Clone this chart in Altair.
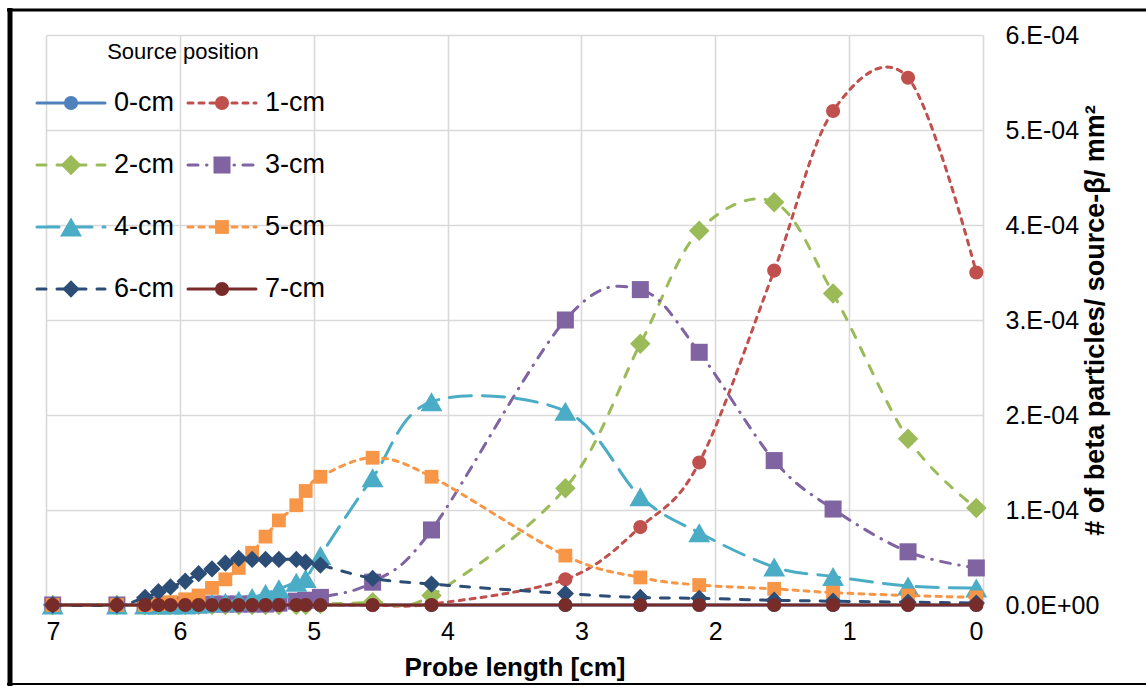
import altair as alt
import pandas as pd

# Probe positions (cm) at which the beta fluence was scored
X_CM = [0.05, 0.56, 1.12, 1.56, 2.12, 2.56, 3.12, 4.12, 4.56, 4.95, 5.06, 5.13,
        5.26, 5.36, 5.46, 5.56, 5.66, 5.76, 5.86, 5.96, 6.07, 6.16, 6.26, 6.47, 6.95]

# Fluence for each source position, in units of 1E-04 particles / source-beta / mm^2
CM0 = [0.00, 0.00, 0.00, 0.00, 0.00, 0.00, 0.00, 0.00, 0.00, 0.00, 0.00, 0.00,
       0.00, 0.00, 0.00, 0.00, 0.00, 0.00, 0.00, 0.00, 0.00, 0.00, 0.00, 0.00, 0.00]
CM1 = [3.50, 5.55, 5.20, 3.52, 1.50, 0.82, 0.27, 0.01, 0.00, 0.00, 0.00, 0.00,
       0.00, 0.00, 0.00, 0.00, 0.00, 0.00, 0.00, 0.00, 0.00, 0.00, 0.00, 0.00, 0.00]
CM2 = [1.02, 1.75, 3.28, 4.24, 3.94, 2.75, 1.23, 0.10, 0.03, 0.01, 0.00, 0.00,
       0.00, 0.00, 0.00, 0.00, 0.00, 0.00, 0.00, 0.00, 0.00, 0.00, 0.00, 0.00, 0.00]
CM3 = [0.39, 0.56, 1.01, 1.52, 2.66, 3.32, 3.00, 0.79, 0.24, 0.08, 0.05, 0.04,
       0.02, 0.01, 0.01, 0.01, 0.01, 0.01, 0.00, 0.00, 0.00, 0.00, 0.00, 0.00, 0.00]
CM4 = [0.18, 0.20, 0.30, 0.40, 0.76, 1.14, 2.04, 2.14, 1.34, 0.52, 0.28, 0.24,
       0.17, 0.12, 0.08, 0.05, 0.03, 0.02, 0.01, 0.00, 0.00, 0.00, 0.00, 0.00, 0.00]
CM5 = [0.08, 0.10, 0.13, 0.17, 0.21, 0.29, 0.52, 1.35, 1.55, 1.35, 1.20, 1.05,
       0.89, 0.72, 0.55, 0.39, 0.27, 0.18, 0.10, 0.06, 0.03, 0.01, 0.00, 0.00, 0.00]
CM6 = [0.02, 0.03, 0.04, 0.05, 0.07, 0.08, 0.12, 0.22, 0.28, 0.42, 0.45, 0.48,
       0.48, 0.48, 0.48, 0.49, 0.44, 0.38, 0.33, 0.25, 0.19, 0.14, 0.08, 0.00, 0.00]
CM7 = [0.00, 0.00, 0.00, 0.00, 0.00, 0.00, 0.00, 0.00, 0.00, 0.00, 0.00, 0.00,
       0.00, 0.00, 0.00, 0.00, 0.00, 0.00, 0.00, 0.00, 0.00, 0.00, 0.00, 0.00, 0.00]
UNIT = 1e-4

SERIES = ["0-cm", "1-cm", "2-cm", "3-cm", "4-cm", "5-cm", "6-cm", "7-cm"]
VALUES = [CM0, CM1, CM2, CM3, CM4, CM5, CM6, CM7]

Y_TICKS = [0.0, 0.0001, 0.0002, 0.0003, 0.0004, 0.0005, 0.0006]
X_TICKS = [0, 1, 2, 3, 4, 5, 6, 7]

# Series styling (Office 2010 palette, marker shapes, dash patterns)
COLORS = ["#4F81BD", "#C0504D", "#9BBB59", "#8064A2", "#4BACC6", "#F79646", "#2C4D75", "#772C2A"]
SHAPES = ["circle", "circle", "diamond", "square", "triangle-up", "square", "diamond", "circle"]
SIZES = [200, 200, 420, 290, 480, 190, 300, 200]
DASHES = [None, [5, 6], [9, 11], [10, 8.5, 0.5, 8.5], [22, 11], [5, 6], [9, 11], None]
LINE_W = 3

FONT = "Liberation Sans"
GRID = "#D9D9D9"

rows = []
for name, vals in zip(SERIES, VALUES):
    for x, v in zip(X_CM, vals):
        rows.append({"series": name, "x": x, "y": v * UNIT})
df = pd.DataFrame(rows)

x_enc = alt.X(
    "x:Q",
    scale=alt.Scale(domain=[0, 7], reverse=True, nice=False, zero=False),
    axis=alt.Axis(
        values=X_TICKS, format="d", title="Probe length [cm]",
        labelFont=FONT, labelFontSize=25, labelColor="black", labelPadding=14,
        titleFont=FONT, titleFontSize=26, titleFontWeight="bold", titleColor="black",
        titlePadding=10, grid=True, gridColor=GRID, gridWidth=1.6,
        domain=False, ticks=False,
    ),
)
y_enc = alt.Y(
    "y:Q",
    scale=alt.Scale(domain=[0, 0.0006], nice=False),
    axis=alt.Axis(
        orient="right", values=Y_TICKS,
        labelExpr="datum.value == 0 ? '0.0E+00' : format(datum.value * 10000, '.0f') + '.E-04'",
        title="# of beta particles/ source-β/ mm²",
        labelFont=FONT, labelFontSize=25, labelColor="black", labelPadding=22,
        labelAlign="left", labelBaseline="middle",
        titleFont=FONT, titleFontSize=27, titleFontWeight="bold", titleColor="black",
        titleAngle=270, titlePadding=11, grid=True, gridColor=GRID, gridWidth=1.6,
        domain=False, ticks=False,
    ),
)

base = alt.Chart(df)
layers = []
for i, name in enumerate(SERIES):
    sub = base.transform_filter(alt.datum.series == name)
    line_kw = dict(interpolate="cardinal", tension=0, color=COLORS[i],
                   strokeWidth=LINE_W, strokeCap="round")
    if DASHES[i] is not None:
        line_kw["strokeDash"] = DASHES[i]
    layers.append(sub.mark_line(**line_kw).encode(x=x_enc, y=y_enc))
    layers.append(
        sub.mark_point(shape=SHAPES[i], size=SIZES[i], filled=True, opacity=1,
                       color=COLORS[i], strokeWidth=0).encode(x=x_enc, y=y_enc)
    )

# Legend: two columns of line + marker samples inside the plot's top-left corner
leg = pd.DataFrame({"series": SERIES})
leg["col"] = [i % 2 for i in range(len(SERIES))]
leg["row"] = [i // 2 for i in range(len(SERIES))]
leg["lx"] = -9 + leg["col"] * 151
leg["lx2"] = leg["lx"] + 68
leg["mx"] = leg["lx"] + 34
leg["tx"] = leg["lx"] + 77
leg["ly"] = 68 + leg["row"] * 62

leg_base = alt.Chart(leg)
for i, name in enumerate(SERIES):
    sub = leg_base.transform_filter(alt.datum.series == name)
    rule_kw = dict(color=COLORS[i], strokeWidth=LINE_W, strokeCap="round")
    if DASHES[i] is not None:
        rule_kw["strokeDash"] = DASHES[i]
    layers.append(sub.mark_rule(**rule_kw).encode(
        x=alt.X("lx:Q", scale=None, axis=None),
        x2="lx2:Q",
        y=alt.Y("ly:Q", scale=None, axis=None),
    ))
    layers.append(sub.mark_point(shape=SHAPES[i], size=SIZES[i], filled=True, opacity=1,
                                 color=COLORS[i], strokeWidth=0).encode(
        x=alt.X("mx:Q", scale=None, axis=None),
        y=alt.Y("ly:Q", scale=None, axis=None),
    ))
    layers.append(sub.mark_text(align="left", baseline="middle", font=FONT,
                                fontSize=27, color="black").encode(
        x=alt.X("tx:Q", scale=None, axis=None),
        y=alt.Y("ly:Q", scale=None, axis=None),
        text="series:N",
    ))

title_df = pd.DataFrame({"t": ["Source position"]})
layers.append(alt.Chart(title_df).mark_text(align="center", baseline="middle", font=FONT,
                                            fontSize=22, color="black").encode(
    x=alt.value(137), y=alt.value(17), text="t:N"))

# Frame around the figure
frame_df = pd.DataFrame({"k": [0]})
layers.append(alt.Chart(frame_df).mark_rule(color="black", strokeWidth=5).encode(
    x=alt.value(-36), y=alt.value(-27), y2=alt.value(651)))
layers.append(alt.Chart(frame_df).mark_rule(color="black", strokeWidth=3).encode(
    x=alt.value(-39), x2=alt.value(1100), y=alt.value(-25)))
layers.append(alt.Chart(frame_df).mark_rule(color="black", strokeWidth=2).encode(
    x=alt.value(-39), x2=alt.value(1100), y=alt.value(649)))

chart = alt.layer(*layers).properties(
    width=937, height=570,
    autosize=alt.AutoSizeParams(type="none"),
    padding={"left": 46, "top": 35, "right": 163, "bottom": 81},
    background="white",
).configure_view(strokeWidth=0)

chart.save("out.html", embed_options={"renderer": "svg", "actions": False})
